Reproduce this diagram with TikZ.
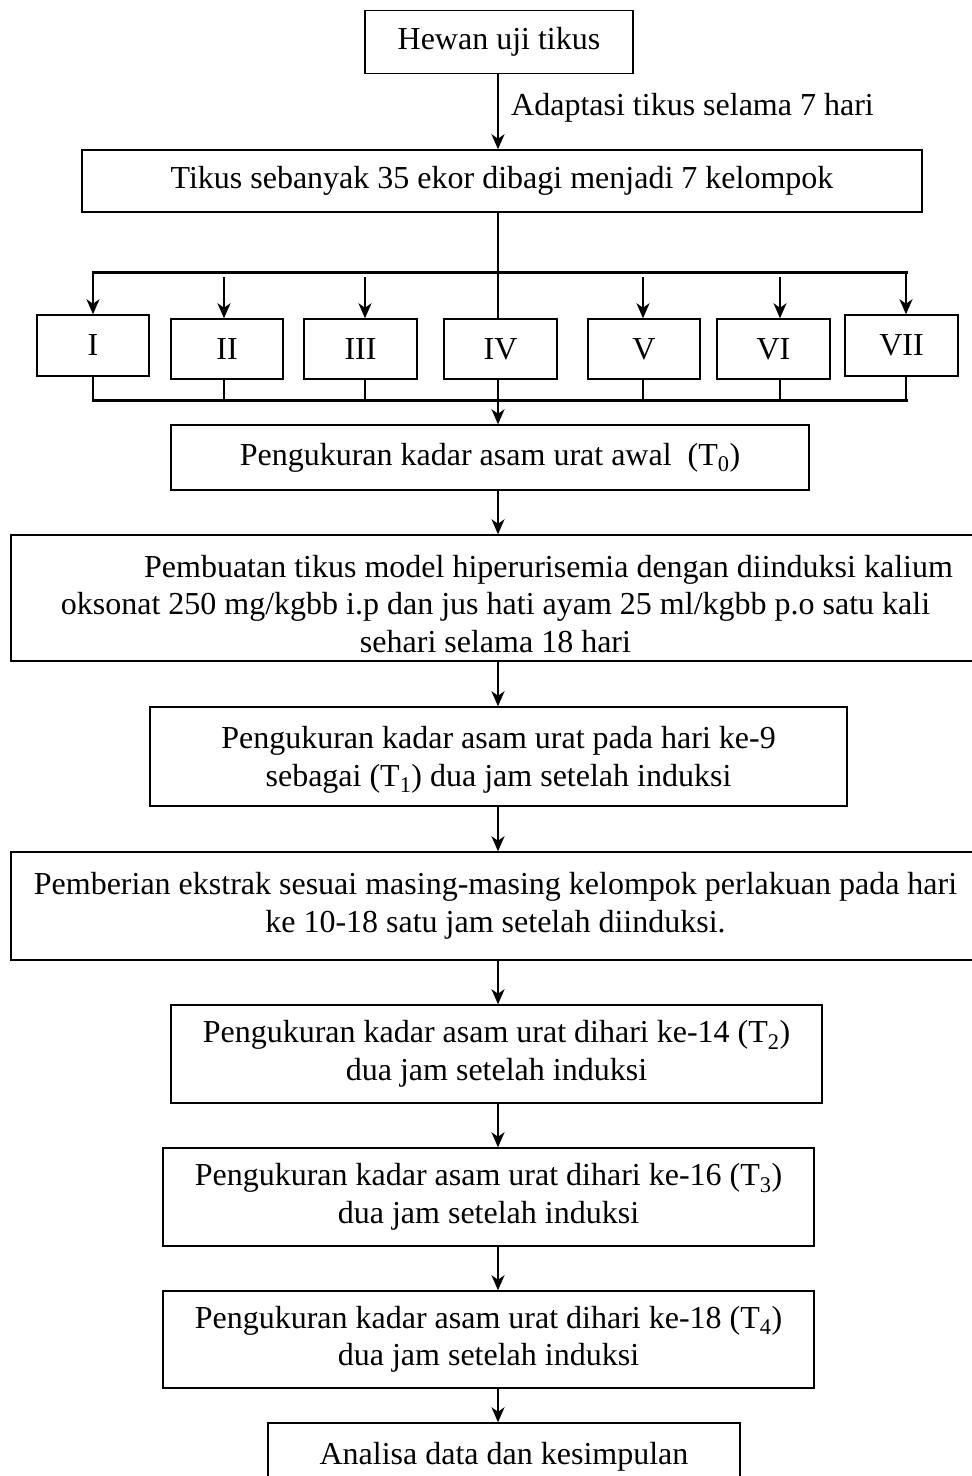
\documentclass[tikz,border=0pt]{standalone}
\usepackage{fontspec}
\setmainfont{Liberation Serif}
\usetikzlibrary{arrows.meta}
\begin{document}
\begin{tikzpicture}[x=1pt,y=-1pt,
  txt/.style={font=\fontsize{32}{37.5}\selectfont},
  box/.style={draw, line width=1.5pt, inner sep=0pt, align=center, txt},
  arr/.style={line width=2.2pt, -{Stealth[length=15pt,width=13pt,inset=4.5pt]}},
  ln/.style={line width=2.2pt},
  bus/.style={line width=3pt, line cap=rect}]
\useasboundingbox (0,0) rectangle (972,1476);
\clip (0,0) rectangle (972,1476);
\coordinate (mx) at (498,0);

% boxes
\node[box, minimum width=268pt, minimum height=63pt] (hewan) at (499,42) {Hewan uji tikus};
\node[box, minimum width=840pt, minimum height=62pt] (tikus) at (502,181) {Tikus sebanyak 35 ekor dibagi menjadi 7 kelompok};
\node[box, minimum width=112pt, minimum height=61pt] (g1) at (93,345.5) {I};
\node[box, minimum width=112pt, minimum height=60pt] (g2) at (227,349) {II};
\node[box, minimum width=113pt, minimum height=60pt] (g3) at (360.5,349) {III};
\node[box, minimum width=113pt, minimum height=60pt] (g4) at (500.5,349) {IV};
\node[box, minimum width=112pt, minimum height=60pt] (g5) at (644,349) {V};
\node[box, minimum width=113pt, minimum height=60pt] (g6) at (773.5,349) {VI};
\node[box, minimum width=113pt, minimum height=61pt] (g7) at (901.5,345.5) {VII};
\node[box, minimum width=638pt, minimum height=65pt] (t0) at (490,457.5) {Pengukuran kadar asam urat awal\ \ (T\textsubscript{0})};
\node[box, minimum width=969pt, minimum height=126pt] (buat) at (495.5,598) {\rule{0pt}{34pt}\hspace*{106pt}Pembuatan tikus model hiperurisemia dengan diinduksi kalium\\oksonat 250 mg/kgbb i.p dan jus hati ayam 25 ml/kgbb p.o satu kali\\sehari selama 18 hari};
\node[box, minimum width=697pt, minimum height=99pt] (t1) at (498.5,756.5) {\rule{0pt}{29pt}Pengukuran kadar asam urat pada hari ke-9\\sebagai (T\textsubscript{1}) dua jam setelah induksi};
\node[box, minimum width=969pt, minimum height=108pt] (beri) at (495.5,906) {Pemberian ekstrak sesuai masing-masing kelompok perlakuan pada hari\\ke 10-18 satu jam setelah diinduksi.};
\node[box, minimum width=651pt, minimum height=98pt] (t2) at (496.5,1054) {Pengukuran kadar asam urat dihari ke-14 (T\textsubscript{2})\\dua jam setelah induksi};
\node[box, minimum width=651pt, minimum height=98pt] (t3) at (488.5,1197) {Pengukuran kadar asam urat dihari ke-16 (T\textsubscript{3})\\dua jam setelah induksi};
\node[box, minimum width=651pt, minimum height=97pt] (t4) at (488.5,1339.5) {Pengukuran kadar asam urat dihari ke-18 (T\textsubscript{4})\\dua jam setelah induksi};
\node[box, minimum width=472pt, minimum height=67pt] (final) at (504,1456.5) {Analisa data dan kesimpulan};

% label
\node[txt, anchor=west, inner sep=0pt] (adapt) at (511,108) {Adaptasi tikus selama 7 hari};

% top connectors
\draw[arr] (mx |- hewan.south) -- (mx |- tikus.north);
\draw[ln] (mx |- tikus.south) -- (mx |- g4.north);

\coordinate (btl) at (93,272);
\coordinate (btr) at (906,272);
\draw[bus] (btl) -- (btr);
\draw[arr] (btl) -- (btl |- g1.north);
\draw[arr] (btr) -- (btr |- g7.north);
\coordinate (a2) at (224,277);
\coordinate (a3) at (365,277);
\coordinate (a5) at (643,277);
\coordinate (a6) at (780,277);
\draw[arr] (a2) -- (a2 |- g2.north);
\draw[arr] (a3) -- (a3 |- g3.north);
\draw[arr] (a5) -- (a5 |- g5.north);
\draw[arr] (a6) -- (a6 |- g6.north);

% bottom bus
\coordinate (bbl) at (93,400);
\coordinate (bbr) at (906,400);
\draw[bus] (bbl) -- (bbr);
\draw[ln] (bbl |- g1.south) -- (bbl);
\draw[ln] (a2 |- g2.south) -- (a2 |- bbl);
\draw[ln] (a3 |- g3.south) -- (a3 |- bbl);
\draw[ln] (a5 |- g5.south) -- (a5 |- bbl);
\draw[ln] (a6 |- g6.south) -- (a6 |- bbl);
\draw[ln] (bbr |- g7.south) -- (bbr);
\draw[arr] (mx |- g4.south) -- (mx |- t0.north);

% main chain
\draw[arr] (mx |- t0.south) -- (mx |- buat.north);
\draw[arr] (mx |- buat.south) -- (mx |- t1.north);
\draw[arr] (mx |- t1.south) -- (mx |- beri.north);
\draw[arr] (mx |- beri.south) -- (mx |- t2.north);
\draw[arr] (mx |- t2.south) -- (mx |- t3.north);
\draw[arr] (mx |- t3.south) -- (mx |- t4.north);
\draw[arr] (mx |- t4.south) -- (mx |- final.north);
\end{tikzpicture}
\end{document}
